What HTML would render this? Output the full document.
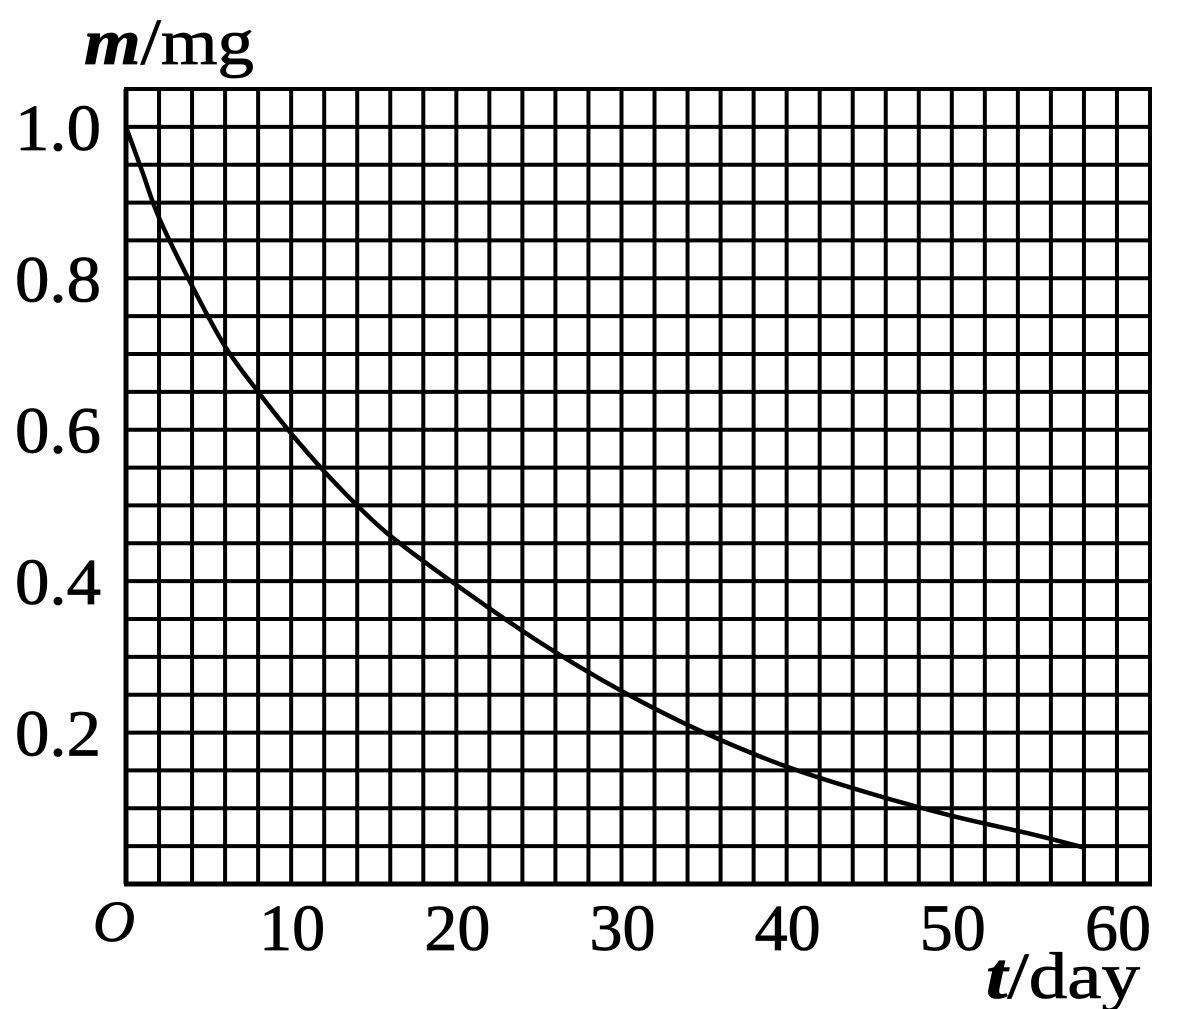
<!DOCTYPE html>
<html><head><meta charset="utf-8"><style>
html,body{margin:0;padding:0;background:#fff;width:1186px;height:1009px;overflow:hidden}
svg text{font-family:"Liberation Serif",serif;fill:#000;stroke:#000;stroke-width:0.8}
</style></head><body>
<svg id="chart" width="1186" height="1009" viewBox="0 0 1186 1009">
<g id="grid"></g>
<g id="ylabels"></g>
<g id="xlabels"></g>
<path id="curve" fill="none" stroke="#000" stroke-width="4.5"/>
<text x="84" y="64" font-size="66" textLength="170" lengthAdjust="spacingAndGlyphs"><tspan font-style="italic" font-weight="bold">m</tspan>/mg</text>
<text x="986" y="998" font-size="66" textLength="154" lengthAdjust="spacingAndGlyphs"><tspan font-style="italic" font-weight="bold">t</tspan>/day</text>
<text x="93" y="941" font-size="58" font-style="italic">O</text>
</svg>
<script>
const days = [0, 1, 2, 4, 6, 8, 10, 12, 14, 16, 20, 25, 30, 35, 40, 45, 50, 55, 58];
const mass = [1.0, 0.94, 0.88, 0.79, 0.71, 0.65, 0.595, 0.545, 0.5, 0.46, 0.395, 0.32, 0.255, 0.2, 0.155, 0.12, 0.09, 0.065, 0.048];
const xTicks = [10, 20, 30, 40, 50, 60];
const yTicks = [0.2, 0.4, 0.6, 0.8, 1.0];
const yTickLabels = ["0.2", "0.4", "0.6", "0.8", "1.0"];

const X0 = 126, X1 = 1150, Y0 = 884, YT = 89;
const xMax = 62, yMax = 1.05;
const sx = t => X0 + t / xMax * (X1 - X0);
const sy = m => Y0 - m / yMax * (Y0 - YT);
const NS = "http://www.w3.org/2000/svg";

const grid = document.getElementById('grid');
for (let t = 0; t <= xMax + 0.001; t += 2) {
  const l = document.createElementNS(NS, 'line');
  
  
  l.setAttribute('x1', sx(t)); l.setAttribute('x2', sx(t));
  l.setAttribute('y1', YT); l.setAttribute('y2', Y0);
  l.setAttribute('stroke', '#000'); l.setAttribute('stroke-width', t === 0 ? 5 : 4);
  grid.appendChild(l);
}
for (let k = 0; k <= 21; k++) {
  const m = k * 0.05;
  const l = document.createElementNS(NS, 'line');
  
  
  l.setAttribute('x1', X0 - 2); l.setAttribute('x2', X1 + 2);
  l.setAttribute('y1', sy(m)); l.setAttribute('y2', sy(m));
  l.setAttribute('stroke', '#000'); l.setAttribute('stroke-width', k === 0 ? 5 : 4);
  grid.appendChild(l);
}
const yl = document.getElementById('ylabels');
yTicks.forEach((v, i) => {
  const t = document.createElementNS(NS, 'text');
  
  
  t.setAttribute('x', 101); t.setAttribute('y', sy(v) + 23);
  t.setAttribute('text-anchor', 'end'); t.setAttribute('font-size', '66');
  t.setAttribute('textLength', '86'); t.setAttribute('lengthAdjust', 'spacingAndGlyphs');
  t.textContent = yTickLabels[i];
  yl.appendChild(t);
});
const xl = document.getElementById('xlabels');
xTicks.forEach(v => {
  const t = document.createElementNS(NS, 'text');
  
  
  t.setAttribute('x', sx(v) + 1); t.setAttribute('y', 950);
  t.setAttribute('text-anchor', 'middle'); t.setAttribute('font-size', '66');
  t.setAttribute('textLength', '66'); t.setAttribute('lengthAdjust', 'spacingAndGlyphs');
  t.textContent = v;
  xl.appendChild(t);
});
const pts = days.map((d, i) => [sx(d), sy(mass[i])]);
let d = `M${pts[0][0]},${pts[0][1]}`;
for (let i = 0; i < pts.length - 1; i++) {
  const p0 = pts[i - 1] || pts[i], p1 = pts[i], p2 = pts[i + 1], p3 = pts[i + 2] || p2;
  const c1 = [p1[0] + (p2[0] - p0[0]) / 6, p1[1] + (p2[1] - p0[1]) / 6];
  const c2 = [p2[0] - (p3[0] - p1[0]) / 6, p2[1] - (p3[1] - p1[1]) / 6];
  d += ` C${c1[0]},${c1[1]} ${c2[0]},${c2[1]} ${p2[0]},${p2[1]}`;
}
document.getElementById('curve').setAttribute('d', d);
</script>
</body></html>
